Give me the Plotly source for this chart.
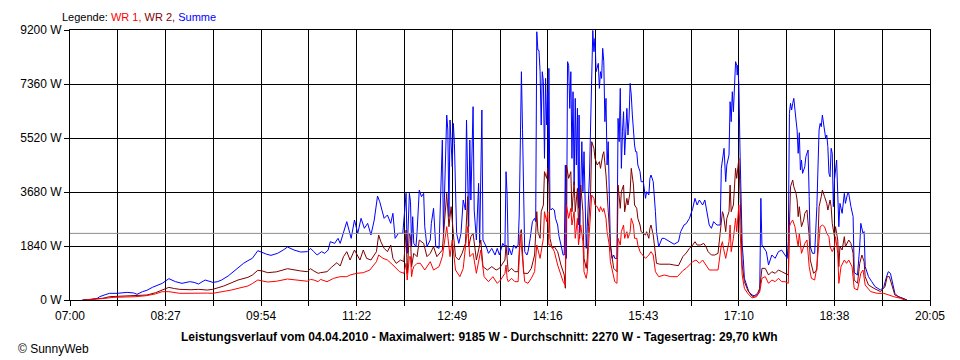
import plotly.graph_objects as go

# ---------------- data (minutes after 07:00, Watt) ----------------
x_tick_labels = ["07:00", "08:27", "09:54", "11:22", "12:49", "14:16", "15:43", "17:10", "18:38", "20:05"]
y_tick_values = [0, 1840, 3680, 5520, 7360, 9200]
durchschnitt = 2270

t_summe = [11, 20, 25, 27, 32, 36, 43, 52, 58, 61, 66, 70, 75, 80, 84, 90, 93, 96, 102, 106, 109, 113, 117, 123, 127,
           130, 134, 138, 144, 148, 153, 158, 162, 166, 171, 175, 179, 183, 189, 194, 198, 204, 210, 216, 219, 222,
           225, 229, 232, 235, 237, 241, 244, 246, 249, 252, 254, 256, 259, 262, 265, 268, 271, 274, 277, 280, 282,
           284, 286, 289, 292, 294, 296, 299, 303, 306, 307, 309, 310, 311, 312, 313, 315, 316, 318, 320, 322, 323,
           325, 328, 329, 331, 333, 336, 339, 340, 342, 343, 344, 345, 346, 348, 349, 350, 352, 354, 356, 358, 360,
           361, 363, 364, 365, 367, 368, 370, 372, 373, 375, 376, 379, 381, 384, 387, 389, 391, 394, 396, 397, 398,
           399, 400, 402, 404, 406, 408, 409, 411, 412, 414, 416, 417, 419, 421, 423, 424, 425, 426, 427, 428, 429,
           430, 431, 432, 433, 434, 435, 435.5, 436, 437, 438, 439, 441, 442, 444, 445, 447, 449, 450, 451, 452, 453,
           454, 455, 456, 457, 458, 459, 460, 461, 462, 463, 463.5, 464, 466, 467, 468, 469, 470, 471, 472, 473, 474,
           475, 476, 477, 478, 479, 480, 481, 482, 483, 484, 485, 486, 487, 488, 489, 490, 491, 492, 493.5, 495, 496,
           498, 499, 500, 501, 502, 503, 504, 505, 506, 507, 508, 509, 510, 511, 512, 513, 514, 515, 516, 517, 519,
           520, 522, 524, 525, 527, 528, 529, 531, 533, 534, 536, 539, 541, 546, 550, 554, 556, 559, 561, 564, 567,
           569, 571, 573, 576, 578, 580, 582, 584, 586, 589, 592, 593, 594, 595.5, 597, 598, 600, 601, 602, 603, 604,
           605, 606, 607, 607.5, 608, 609, 610, 611, 612, 613, 614, 617, 618, 621, 624, 627, 628, 629, 630, 631, 634,
           636, 639, 642, 645, 648, 651, 653, 654, 655, 656, 657, 658, 659, 661, 662, 663, 664, 665, 666, 667, 669,
           670, 672, 673, 674, 676, 678, 680, 681, 682, 683, 684, 685, 686, 688, 689, 690, 691, 692, 693, 694, 695,
           696, 698, 699, 700, 701, 703, 705, 706, 708, 709, 711, 713, 714, 717, 719, 720, 722, 723, 724, 727, 730,
           733, 738, 741, 743, 745, 747, 749, 751, 754, 758, 762]
summe = [0, 20, 60, 113, 180, 227, 227, 260, 240, 193, 284, 330, 431, 500, 568, 727, 680, 625, 568, 590, 625, 600, 545,
         681, 650, 602, 620, 681, 818, 950, 1113, 1250, 1340, 1420, 1680, 1613, 1560, 1522, 1590, 1700, 1806, 1703,
         1635, 1647, 1760, 1647, 1533, 1647, 1590, 1703, 1987, 1930, 2101, 1930, 2328, 2669, 2385, 2101, 2726, 2271,
         2783, 2442, 2612, 2215, 2726, 3543, 3350, 3066, 2783, 2896, 2612, 2953, 2101, 2271, 2271, 3634, 1590, 3634,
         3350, 1817, 2839, 1930, 1817, 2328, 3748, 3520, 3634, 2498, 1817, 2044, 2612, 3123, 1817, 1760, 5451, 2271,
         5111, 6303, 5792, 2839, 6133, 4542, 6019, 5339, 2271, 1930, 2271, 3407, 3066, 6133, 2498, 5451, 3407, 6587,
         3066, 2044, 3975, 1930, 6473, 2044, 1817, 1590, 1760, 1533, 1760, 1533, 1930, 1817, 4372, 3577, 1533, 1760,
         1533, 1874, 1760, 1874, 2896, 7779, 5800, 1647, 1533, 1647, 2101, 2669, 2783, 2669, 9140, 8518, 8500, 7779,
         5962, 7779, 7438, 4826, 7552, 5962, 7097, 4145, 7893, 3123, 3066, 3123, 3066, 2783, 2555, 2215, 1874, 1533,
         1533, 4599, 1420, 8121, 8000, 6530, 7779, 4826, 7097, 3918, 6871, 4599, 6530, 3123, 6303, 2101, 5394, 3690,
         5053, 2555, 1760, 2555, 3500, 4259, 5962, 8121, 9185, 8461, 8915, 7779, 7893, 8064, 7211, 7779, 7552, 8575,
         8121, 6076, 6871, 4599, 5394, 3123, 1874, 1420, 1533, 1420, 1420, 6189, 5394, 7211, 4486, 5735, 6416, 4940,
         5962, 6530, 5621, 6189, 7382, 6985, 6303, 5621, 5281, 5053, 5053, 4599, 4372, 4031, 4031, 3464, 3690, 3577,
         4145, 4259, 4031, 3009, 2328, 1817, 2101, 2101, 1987, 1900, 1987, 2328, 2555, 2600, 2783, 3123, 3464, 3237,
         3407, 3237, 3407, 3009, 2555, 2442, 2669, 2555, 2555, 4486, 4826, 5168, 4031, 4599, 4940, 6757, 6076, 7097,
         6416, 7325, 8121, 8000, 7666, 8000, 7325, 5111, 2783, 1874, 1420, 738, 397, 284, 170, 130, 227, 397, 3464,
         1874, 1817, 1647, 1192, 1533, 1420, 1647, 1700, 1533, 1420, 1987, 6360, 6700, 6473, 6700, 6871, 6133, 5792,
         4997, 5700, 4429, 4770, 4315, 4540, 4883, 5111, 3520, 1817, 1590, 1590, 3180, 4542, 5792, 6019, 5905, 6303,
         6019, 5508, 5621, 5224, 4315, 4200, 5168, 4997, 3180, 4088, 4770, 3748, 2498, 3293, 2953, 3634, 3293, 3634,
         3634, 3180, 2839, 935, 852, 1817, 2612, 2271, 2330, 1136, 795, 625, 454, 340, 454, 738, 965, 908, 568, 227,
         113, 60, 0]

t_wr2 = [12, 25, 30, 36, 50, 60, 70, 78, 84, 90, 95, 100, 110, 117, 125, 130, 140, 147, 153, 162, 166, 171, 175, 180,
         188, 198, 204, 210, 216, 219, 222, 226, 228, 234, 238, 243, 246, 249, 252, 255, 259, 264, 267, 270, 274, 279,
         281, 283, 286, 289, 292, 294, 297, 301, 304, 306, 307, 309, 310, 311, 313, 316, 318, 322, 325, 328, 331, 334,
         339, 342, 343, 345, 347, 349, 351, 354, 357, 360, 362, 363, 365, 367, 370, 374, 376, 380, 384, 388, 391, 396,
         397, 398, 399, 402, 405, 408, 410, 411, 413, 417, 420, 423, 425, 426, 428, 429, 431, 432, 434, 435, 436, 437,
         439, 441, 444, 447, 450, 451, 452, 454, 456, 457, 459, 460, 462, 463, 465, 467, 468, 470, 471, 472, 474, 475,
         477, 478, 480, 482, 483, 485, 486, 488, 489, 491, 492, 495, 498, 499, 501, 502, 504, 505, 507, 508, 510, 511,
         513, 514, 516, 517, 519, 520, 524, 525, 527, 528, 529, 531, 533, 534, 537, 541, 546, 550, 554, 558, 561, 564,
         567, 569, 571, 574, 577, 579, 581, 584, 587, 590, 593, 594, 595, 597, 598, 600, 601, 602, 604, 606, 607, 609,
         610, 611, 612, 614, 617, 620, 622, 626, 628, 630, 633, 636, 639, 642, 645, 648, 651, 654, 655, 656, 658, 659,
         661, 662, 663, 664, 666, 668, 669, 671, 673, 674, 677, 680, 681, 682, 684, 685, 687, 689, 690, 692, 693, 694,
         696, 697, 699, 700, 701, 703, 705, 706, 709, 711, 713, 714, 717, 719, 721, 723, 724, 727, 732, 738, 742, 744,
         746, 749, 751, 756, 762]
wr2 = [0, 40, 60, 113, 136, 150, 170, 250, 340, 431, 390, 363, 350, 363, 340, 363, 477, 580, 681, 772, 850, 1011, 990,
       931, 960, 1067, 1020, 990, 965, 1067, 990, 909, 931, 965, 1113, 1272, 1158, 1476, 1647, 1363, 1703, 1363, 1703,
       1420, 1363, 1647, 2215, 1987, 1760, 1647, 1874, 1420, 1249, 1363, 1306, 2385, 909, 2271, 2158, 1136, 1590, 1476,
       2044, 1930, 1476, 1590, 1817, 1476, 1703, 3407, 3634, 2498, 3180, 2271, 1476, 1363, 1590, 1930, 3520, 1817,
       2158, 2271, 1363, 2044, 1136, 1022, 1136, 1022, 1079, 1363, 1874, 1420, 965, 1079, 965, 965, 2328, 2400, 908,
       908, 1079, 1533, 3009, 2328, 2101, 3009, 3237, 4372, 4145, 4486, 3918, 2101, 1760, 1817, 1647, 1192, 852, 400,
       4599, 4145, 4372, 3009, 4031, 3009, 3804, 2555, 3918, 3009, 1420, 1079, 1420, 2500, 3690, 5394, 5168, 4826,
       4599, 4713, 4486, 4940, 5053, 4259, 3690, 2783, 1874, 1079, 965, 3918, 3123, 3690, 3918, 3009, 3464, 3237,
       3690, 4486, 3918, 3237, 3123, 2783, 2555, 2328, 2215, 2328, 2101, 2441, 2555, 2215, 1420, 1249, 1220, 1220,
       1220, 1192, 1170, 1480, 1600, 1760, 1874, 1987, 1874, 1874, 1930, 1817, 1647, 1533, 1533, 1590, 2783, 3009,
       2896, 2328, 2783, 3009, 3918, 3009, 3237, 4486, 4145, 4826, 3690, 1874, 1192, 625, 340, 170, 110, 227, 397,
       1079, 1079, 852, 965, 908, 1022, 965, 908, 852, 2500, 3861, 4088, 3861, 3634, 3407, 2839, 3180, 2498, 2725,
       2953, 3066, 2158, 1363, 909, 1022, 2044, 3180, 3520, 3748, 3520, 3293, 3066, 3407, 3180, 2612, 2158, 2498,
       2044, 1136, 1817, 1703, 2158, 1817, 2044, 1930, 1590, 681, 568, 1249, 1533, 1306, 795, 511, 397, 284, 454, 795,
       795, 454, 170, 90, 0]

t_wr1 = [12, 25, 30, 40, 50, 60, 70, 78, 84, 90, 100, 110, 117, 125, 130, 140, 147, 153, 162, 166, 171, 175, 180, 188,
         198, 204, 210, 216, 219, 222, 226, 228, 234, 240, 246, 252, 255, 261, 267, 273, 279, 281, 285, 289, 294, 300,
         304, 306, 307, 309, 310, 311, 312, 313, 316, 319, 323, 328, 331, 336, 339, 342, 343, 346, 348, 351, 355, 358,
         362, 364, 367, 370, 374, 377, 381, 385, 389, 392, 396, 397, 398, 399, 402, 405, 408, 410, 412, 414, 417, 420,
         423, 425, 428, 431, 432, 434, 435, 436, 438, 441, 444, 447, 449, 451, 452, 454, 456, 457, 459, 460, 462, 463,
         465, 467, 468, 470, 471, 472, 474, 475, 477, 478, 480, 482, 483, 485, 486, 488, 489, 491, 492, 494, 496, 498,
         499, 501, 502, 504, 505, 507, 508, 510, 511, 513, 514, 516, 517, 519, 520, 524, 527, 529, 531, 533, 536, 541,
         547, 553, 558, 561, 564, 567, 570, 573, 576, 579, 582, 586, 590, 593, 594, 595, 597, 600, 601, 602, 604, 606,
         607, 609, 610, 611, 612, 614, 617, 621, 625, 628, 630, 633, 636, 639, 642, 645, 648, 651, 654, 655, 656, 658,
         660, 661, 663, 664, 666, 668, 669, 671, 673, 675, 678, 680, 682, 683, 685, 687, 689, 691, 692, 694, 696, 697,
         699, 700, 702, 705, 707, 709, 712, 714, 717, 720, 722, 724, 729, 735, 741, 745, 750, 756, 760]
wr1 = [0, 30, 50, 91, 100, 113, 150, 210, 284, 284, 227, 240, 250, 235, 227, 284, 340, 397, 477, 560, 681, 650, 613,
       640, 715, 690, 670, 640, 703, 681, 625, 703, 625, 738, 795, 795, 852, 909, 931, 1022, 1306, 1533, 1420, 1363,
       1192, 965, 909, 1249, 681, 1476, 1476, 795, 1022, 1136, 1249, 1249, 1022, 1306, 1022, 1136, 1476, 2271, 2498,
       1476, 2044, 1022, 795, 1079, 2498, 1476, 1590, 909, 1703, 795, 625, 795, 568, 681, 909, 1192, 738, 625, 738,
       625, 625, 2215, 1420, 625, 568, 738, 965, 1874, 1420, 2101, 3009, 2669, 3009, 1874, 1874, 1647, 1192, 852, 625,
       500, 3237, 2783, 3123, 2555, 3009, 2101, 2783, 1874, 2555, 1987, 965, 738, 965, 1800, 2800, 3577, 3464, 3237,
       3180, 3009, 3180, 3009, 3123, 2783, 2328, 1874, 1306, 965, 625, 568, 2101, 1874, 2328, 2555, 2101, 2328, 2101,
       2328, 2783, 2555, 2101, 2101, 1874, 1647, 1590, 1420, 1533, 1647, 1533, 965, 795, 852, 795, 795, 1000, 1079,
       1192, 1306, 1363, 1249, 1363, 1192, 1022, 1022, 1022, 1874, 1987, 1760, 1420, 1987, 2555, 1647, 2101, 2783,
       2328, 3237, 2328, 1420, 852, 397, 227, 70, 110, 284, 738, 795, 568, 681, 625, 738, 625, 625, 568, 2500, 2612,
       2725, 2498, 2271, 1817, 2271, 1590, 1817, 1930, 2044, 1136, 738, 681, 1136, 2271, 2498, 2555, 2498, 2271, 2158,
       1817, 1647, 1817, 2158, 1590, 568, 1136, 1363, 1249, 1363, 1136, 397, 340, 909, 1022, 511, 284, 227, 227, 170,
       113, 60, 0]

# ---------------- figure ----------------
X_END = 783  # minutes spanned by the axis (07:00 .. 20:05 label)
n_grid = 2 * (len(x_tick_labels) - 1)
x_grid_vals = [X_END * i / n_grid for i in range(n_grid + 1)]
x_grid_text = [x_tick_labels[i // 2] if i % 2 == 0 else "" for i in range(n_grid + 1)]

FONT = "Liberation Sans, Arial, sans-serif"

fig = go.Figure()
fig.add_trace(go.Scatter(x=t_summe, y=summe, mode="lines", name="Summe",
                         line=dict(color="#0000FF", width=1)))
fig.add_trace(go.Scatter(x=t_wr2, y=wr2, mode="lines", name="WR 2",
                         line=dict(color="#800000", width=1)))
fig.add_trace(go.Scatter(x=t_wr1, y=wr1, mode="lines", name="WR 1",
                         line=dict(color="#FF0000", width=1)))

fig.add_shape(type="line", xref="paper", x0=0, x1=1, yref="y", y0=durchschnitt, y1=durchschnitt,
              line=dict(color="#8c8c8c", width=1), layer="above")

fig.update_xaxes(range=[0, X_END], tickmode="array", tickvals=x_grid_vals, ticktext=x_grid_text,
                 showgrid=True, gridcolor="black", gridwidth=1, zeroline=False,
                 showline=True, linecolor="black", linewidth=1, mirror=True,
                 ticks="outside", ticklen=5, tickcolor="black", tickwidth=1,
                 tickfont=dict(family=FONT, size=12, color="black"))
fig.update_yaxes(range=[0, 9200], tickmode="array", tickvals=y_tick_values,
                 ticktext=[f"{v} W" for v in y_tick_values],
                 showgrid=True, gridcolor="black", gridwidth=1, zeroline=False,
                 showline=True, linecolor="black", linewidth=1, mirror=True,
                 ticks="outside", ticklen=5, tickcolor="black", tickwidth=1,
                 tickfont=dict(family=FONT, size=12, color="black"))

legend_text = ('Legende: <span style="color:#FF0000">WR 1,</span> '
               '<span style="color:#800000">WR 2,</span> '
               '<span style="color:#0000FF">Summe</span>')
title_text = ("<b>Leistungsverlauf vom 04.04.2010 - Maximalwert: 9185 W - "
              "Durchschnitt: 2270 W - Tagesertrag: 29,70 kWh</b>")

# the page body adds an 8 px margin, so the figure margins are shifted by 8 px
fig.update_layout(
    width=960, height=360, autosize=False,
    margin=dict(l=52, r=38, t=22, b=68),
    paper_bgcolor="white", plot_bgcolor="white",
    showlegend=False,
    annotations=[
        dict(text=legend_text, xref="paper", yref="paper", x=-0.012, y=1.048,
             xanchor="left", yanchor="middle", showarrow=False,
             font=dict(family=FONT, size=11, color="black")),
        dict(text=title_text, xref="paper", yref="paper", x=0.476, y=-0.137,
             xanchor="center", yanchor="middle", showarrow=False,
             font=dict(family=FONT, size=12, color="black")),
        dict(text="© SunnyWeb", xref="paper", yref="paper", x=-0.0632, y=-0.1815,
             xanchor="left", yanchor="middle", showarrow=False,
             font=dict(family=FONT, size=12, color="black")),
    ],
)

fig.write_html("out.html")
